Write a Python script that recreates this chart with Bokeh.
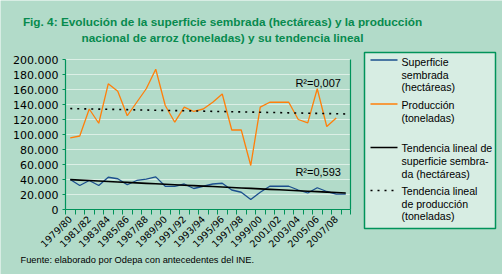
import math
import numpy as np
from bokeh.plotting import figure
from bokeh.models import (Range1d, FixedTicker, CustomJSTickFormatter, Label,
                          BoxAnnotation, Arrow)
from bokeh.embed import file_html
from bokeh.resources import INLINE

# ---------------- data ----------------
seasons = ["1979/80", "1980/81", "1981/82", "1982/83", "1983/84", "1984/85",
           "1985/86", "1986/87", "1987/88", "1988/89", "1989/90", "1990/91",
           "1991/92", "1992/93", "1993/94", "1994/95", "1995/96", "1996/97",
           "1997/98", "1998/99", "1999/00", "2000/01", "2001/02", "2002/03",
           "2003/04", "2004/05", "2005/06", "2006/07", "2007/08", "2008/09"]

# Superficie sembrada (hectáreas)
superficie = [40000, 32000, 38700, 32000, 43000, 41000, 33000, 38700, 40500, 43500,
              31000, 30700, 34000, 28000, 31000, 34000, 35000, 26000, 23000, 13300,
              23000, 31000, 31000, 31000, 26000, 22000, 29000, 24000, 20500, 20500]

# Producción (toneladas)
produccion = [95600, 98000, 134000, 115000, 167600, 157700, 125000, 143000, 161000, 187000,
              138700, 116400, 136400, 130700, 134000, 143000, 154000, 106000, 106000, 58700,
              136400, 143000, 143000, 143000, 120000, 115600, 161000, 110700, 122000]

y_ticks = [0, 20000, 40000, 60000, 80000, 100000, 120000, 140000, 160000, 180000, 200000]

r2_prod = "R²=0,007"
r2_sup = "R²=0,593"

title_lines = ["Fig. 4: Evolución de la superficie sembrada (hectáreas) y la producción",
               "nacional de arroz (toneladas) y su tendencia lineal"]
footer = "Fuente: elaborado por Odepa con antecedentes del INE."

legend_entries = [
    ["Superficie", "sembrada", "(hectáreas)"],
    ["Producción", "(toneladas)"],
    ["Tendencia lineal de", "superficie  sembra-", "da (hectáreas)"],
    ["Tendencia lineal", "de producción", "(toneladas)"],
]

# ---------------- styles / layout ----------------
BG = "#B2DBC9"
GRID = "#DCEFE6"
GREEN = "#00935A"
TITLE = "#078A4E"
BLUE = "#1B4F8E"
ORANGE = "#FF7F0A"
LEG_BG = "#D7EDE3"

W, H = 502, 274
X0_PX, Y0_PX = 65, 209      # page pixel of the axes origin
AREA_W, AREA_H = 285, 150   # size of the plotting area in pixels
N = len(seasons)
Y_MAX = y_ticks[-1]
px_x = AREA_W / N           # pixels per category
px_y = AREA_H / Y_MAX       # pixels per unit

# the frame covers the whole canvas; axes are pinned at the data origin
x_range = Range1d(-X0_PX / px_x, (W - X0_PX) / px_x)
y_range = Range1d(-(H - Y0_PX) / px_y, Y0_PX / px_y)

xs_sup = [i + 0.5 for i in range(len(superficie))]
xs_prod = [i + 0.5 for i in range(len(produccion))]
xs_all = [i + 0.5 for i in range(N)]

c_sup = np.polyfit(xs_sup, superficie, 1)
c_prod = np.polyfit(xs_prod, produccion, 1)
trend_sup = np.polyval(c_sup, xs_all)
trend_prod = np.polyval(c_prod, xs_all)

p = figure(width=W, height=H, output_backend="svg", toolbar_location=None,
           x_range=x_range, y_range=y_range, min_border=0,
           background_fill_color=BG, border_fill_color=BG, outline_line_color=None)

# grid lines (only over the plotting area)
p.xgrid.visible = False
p.ygrid.visible = False
p.segment(x0=[0] * len(y_ticks), x1=[N] * len(y_ticks), y0=y_ticks, y1=y_ticks,
          line_color=GRID, line_width=1)
# right border of plotting area
p.segment(x0=[N], x1=[N], y0=[0], y1=[Y_MAX], line_color=GREEN, line_width=1.2)

# series
p.line(xs_sup, superficie, line_color=BLUE, line_width=1.3)
p.line(xs_prod, produccion, line_color=ORANGE, line_width=1.3)
p.line(xs_all, trend_sup, line_color="black", line_width=1.6)
p.line(xs_all, trend_prod, line_color="black", line_width=1.6, line_dash="2 5")

# y axis
p.yaxis.fixed_location = 0
p.yaxis.bounds = (0, Y_MAX)
p.yaxis.ticker = FixedTicker(ticks=y_ticks)
p.yaxis.formatter = CustomJSTickFormatter(code="""
if (tick == 0) { return "0"; }
const k = Math.floor(tick / 1000);
const r = Math.round(tick % 1000);
return k + "." + String(r).padStart(3, "0");
""")
p.yaxis.axis_line_color = GREEN
p.yaxis.axis_line_width = 1.2
p.yaxis.major_tick_line_color = GREEN
p.yaxis.major_tick_out = 3
p.yaxis.major_tick_in = 0
p.yaxis.minor_tick_line_color = None
p.yaxis.major_label_text_font = "DejaVu Sans"
p.yaxis.major_label_text_font_size = "11px"
p.yaxis.major_label_text_color = "black"
p.yaxis.major_label_standoff = 4

# x axis
p.xaxis.fixed_location = 0
p.xaxis.bounds = (0, N)
p.xaxis.ticker = FixedTicker(ticks=[i + 0.5 for i in range(0, N, 2)],
                             minor_ticks=list(range(N + 1)))
p.xaxis.formatter = CustomJSTickFormatter(args=dict(labels=seasons),
                                          code="return labels[Math.floor(tick)];")
p.xaxis.major_label_orientation = math.pi / 4
p.xaxis.axis_line_color = GREEN
p.xaxis.axis_line_width = 1.2
p.xaxis.major_tick_out = 0
p.xaxis.major_tick_in = 0
p.xaxis.minor_tick_out = 5
p.xaxis.minor_tick_in = 0
p.xaxis.minor_tick_line_color = GREEN
p.xaxis.major_label_text_font = "DejaVu Sans"
p.xaxis.major_label_text_font_size = "9.5px"
p.xaxis.major_label_text_color = "black"
p.xaxis.major_label_standoff = 3


# screen units: frame == canvas, y measured from the bottom
def sy(Y):
    return H - Y


# title
for txt, Y in zip(title_lines, [21, 37]):
    p.add_layout(Label(x=222, y=sy(Y), x_units="screen", y_units="screen", text=txt,
                       text_font="Liberation Sans", text_font_style="bold",
                       text_font_size="11.8px", text_color=TITLE,
                       text_align="center", text_baseline="middle"))

# footer
p.add_layout(Label(x=20, y=sy(259), x_units="screen", y_units="screen", text=footer,
                   text_font="Liberation Sans", text_font_size="9.3px",
                   text_color="black", text_baseline="middle"))

# R² labels
p.add_layout(Label(x=24.2, y=169000, text=r2_prod, text_font="Liberation Sans",
                   text_font_size="11px", text_baseline="middle", text_color="black"))
p.add_layout(Label(x=24.2, y=49700, text=r2_sup, text_font="Liberation Sans",
                   text_font_size="11px", text_baseline="middle", text_color="black"))

# legend box
p.add_layout(BoxAnnotation(left=364, right=495, top=sy(52), bottom=sy(228),
                           left_units="screen", right_units="screen",
                           top_units="screen", bottom_units="screen",
                           fill_color=LEG_BG, fill_alpha=1.0,
                           line_color=GREEN, line_width=1.5, line_alpha=1.0))
sample_styles = [dict(line_color=BLUE, line_width=1.5),
                 dict(line_color=ORANGE, line_width=1.5),
                 dict(line_color="black", line_width=1.6),
                 dict(line_color="black", line_width=1.6, line_dash="2 5")]
sample_y = [59.5, 103.5, 147, 190]
text_y = [[61.7, 74.3, 86.5], [104, 117.3], [147.3, 160.7, 173.3], [190, 203.3, 215.7]]
for lines, sty, ly, tys in zip(legend_entries, sample_styles, sample_y, text_y):
    p.add_layout(Arrow(end=None, x_start=370, y_start=sy(ly), x_end=397,
                       y_end=sy(ly), start_units="screen", end_units="screen", **sty))
    for txt, ty in zip(lines, tys):
        p.add_layout(Label(x=401, y=sy(ty), x_units="screen", y_units="screen",
                           text=txt, text_font="Liberation Sans", text_font_size="10.6px",
                           text_color="black", text_baseline="middle"))

open("out.html", "w").write(file_html(p, INLINE))
